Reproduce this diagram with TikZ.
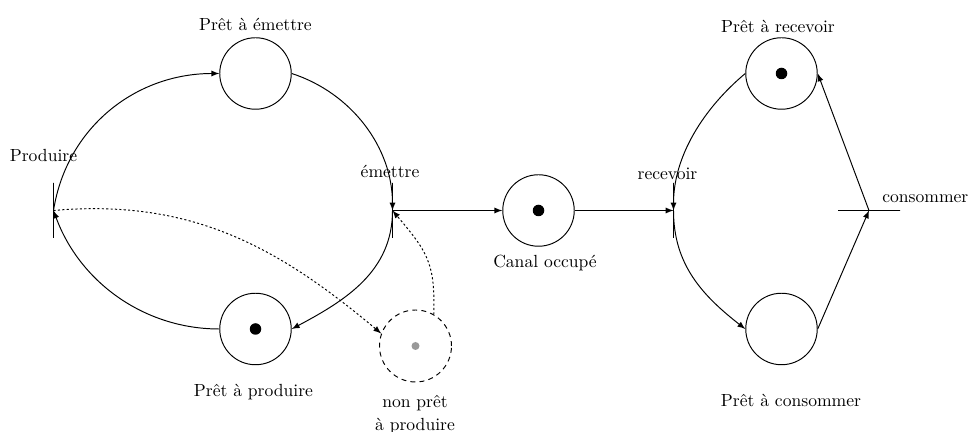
\documentclass[tikz,border=0pt]{standalone}
\usepackage{fontspec}
\usetikzlibrary{positioning, arrows}

\begin{document}
\begin{tikzpicture}[line width=0.55pt,
		place/.style={draw, circle, minimum size=1.43cm, inner sep=0pt},
		transition/.style={draw, rectangle, inner sep=0pt, minimum width=0cm, minimum height=1.1cm},
		texte/.style={anchor=base, align=center},
		pointille/.style={dash pattern=on 1.2pt off 1.3pt}]
		\useasboundingbox (0,0) rectangle (19.36,8.64);
		
		%Sender's places and transitions
		\node (Pret emettre) at (5.11,7.17) [place]{};
		\node (Pret produire) at (5.11,2.06) [place]{};
		\node (Produire) at (1.07,4.43) [transition]{};
		\node (emettre) at (7.85,4.43) [transition]{};
		\node (non pret) at (8.31,1.72) [place, dash pattern=on 2.8pt off 2.4pt, minimum size=1.44cm]{};
		
		%Channel
		\node (Canal occupe) at (10.77,4.43) [place]{};
		
		%Receiver's places and transitions
		\node (recevoir) at (13.47,4.43) [transition]{};
		\node (Pret recevoir) at (15.63,7.17) [place]{};
		\node (Pret consommer) at (15.63,2.06) [place]{};
		\node (consommer) at (17.38,4.43) [transition, minimum width=1.24cm, minimum height=0cm]{};
		
		%Tokens
		\fill (Pret produire.center) circle (0.115);
		\fill (Canal occupe.center) circle (0.115);
		\fill (Pret recevoir.center) circle (0.115);
		\fill[black!40] (non pret.center) circle (0.08);
		
		%Writing next to the nodes
		\node (Texte1) at (5.11,8.03) [texte]{Prêt à émettre};
		\node (Texte2) at (0.87,5.40) [texte]{Produire};
		\node (Texte3) at (7.80,5.08) [texte]{émettre};
		\node (Texte4) at (10.90,3.28) [texte]{Canal occupé};
		\node (Texte5) at (13.35,5.04) [texte]{recevoir};
		\node (Texte6) at (15.56,7.98) [texte]{Prêt à recevoir};
		\node (Texte7) at (17.52,4.58) [texte, anchor=base west]{consommer};
		\node (Texte8) at (5.07,0.71) [texte]{Prêt à produire};
		\node (Texte9) at (8.30,0.85) [texte, anchor=north]{non prêt\\[1pt] à produire};
		\node (Texte10) at (15.82,0.51) [texte]{Prêt à consommer};
		
		%Arcs of the sender
		\draw[-latex] (Produire.center) to[out=81, in=180] (Pret emettre.west);
		\draw[-latex] (Pret emettre.east) to[out=-18, in=90, looseness=0.95] (emettre.center);
		\draw[-latex] (emettre.center) to[out=-90, in=28] (Pret produire.east);
		\draw[-latex] (Pret produire.west) to[out=180, in=-70, looseness=0.95] (Produire.center);
		\draw[-latex, pointille] (Produire.center) to[out=5, in=140] (non pret.160);
		\draw[-latex, pointille] (non pret.60) to[out=88, in=-50, looseness=1.2] (emettre.center);
		
		%Links through the channel
		\draw[-latex] (emettre.center) -- (Canal occupe.west);
		\draw[-latex] (Canal occupe.east) -- (recevoir.center);
		
		%Arcs of the receiver
		\draw[-latex] (Pret recevoir.west) to[out=220, in=90, looseness=0.9] (recevoir.center);
		\draw[-latex] (recevoir.center) to[out=-90, in=142] (Pret consommer.west);
		\draw[-latex] (Pret consommer.east) -- (consommer.center);
		\draw[-latex] (consommer.center) -- (Pret recevoir.east);
		
\end{tikzpicture}
\end{document}
